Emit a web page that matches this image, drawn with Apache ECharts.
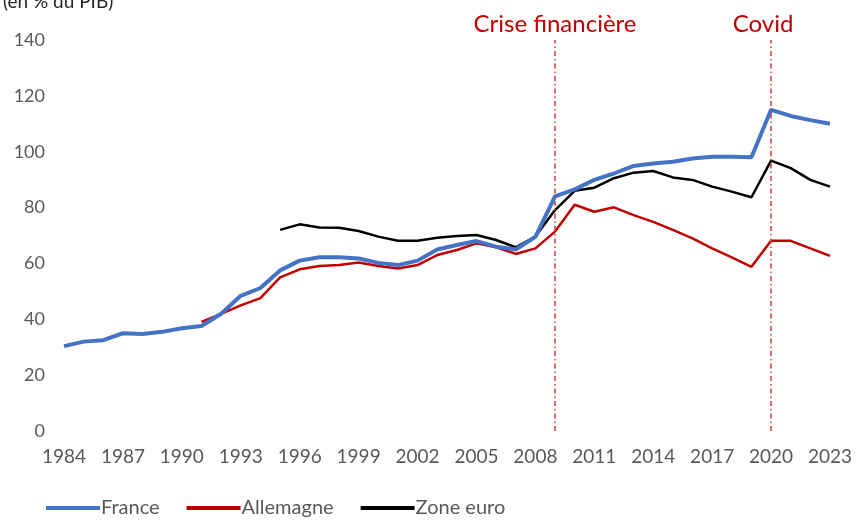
<!DOCTYPE html>
<html>
<head>
<meta charset="utf-8">
<script src="https://cdn.jsdelivr.net/npm/echarts@6/dist/echarts.min.js"></script>
<style>html,body{margin:0;padding:0;background:#fff}#c{width:857px;height:523px}</style>
</head>
<body>
<div id="c"></div>
<script>
const years = [];
for (let y = 1984; y <= 2023; y++) years.push(String(y));

const france = [30.4, 32.0, 32.5, 35.0, 34.7, 35.5, 36.8, 37.6, 42.0, 48.4, 51.2, 57.5, 61.0, 62.2, 62.2, 61.8, 60.2, 59.4, 61.0, 65.0, 66.6, 68.0, 66.0, 65.0, 69.5, 84.0, 86.5, 89.9, 92.2, 94.9, 95.8, 96.4, 97.6, 98.2, 98.2, 98.0, 115.0, 112.8, 111.3, 110.0];
const allemagne = [null, null, null, null, null, null, null, 39.1, 41.9, 45.0, 47.6, 55.0, 57.9, 59.1, 59.4, 60.3, 59.1, 58.2, 59.4, 63.0, 64.8, 67.2, 65.8, 63.4, 65.4, 71.4, 81.0, 78.5, 80.1, 77.3, 74.9, 72.0, 69.0, 65.4, 62.2, 58.8, 68.1, 68.1, 65.4, 62.7];
const zoneEuro = [null, null, null, null, null, null, null, null, null, null, null, 72.0, 74.0, 72.9, 72.8, 71.6, 69.6, 68.1, 68.1, 69.2, 69.8, 70.2, 68.4, 65.8, 69.6, 79.1, 86.0, 87.1, 90.5, 92.5, 93.1, 90.8, 89.9, 87.5, 85.7, 83.7, 96.8, 94.1, 89.9, 87.5];
const eventYears = ['2009', '2020'];
const eventLabels = ['Crise financière', 'Covid'];

const FONT = 'Lato, "Open Sans", sans-serif';
const RED = '#C00000';
const MARK = '#D83A3A';
const chart = echarts.init(document.getElementById('c'));
chart.setOption({
  animation: false,
  backgroundColor: '#fff',
  textStyle: { fontFamily: FONT },
  title: {
    text: '(en % du PIB)',
    left: -2, top: -13,
    textStyle: { fontFamily: FONT, fontSize: 19, fontWeight: 'normal', color: '#262626' }
  },
  grid: { left: 64, right: 27, top: 40, bottom: 92, containLabel: false },
  xAxis: {
    type: 'category',
    data: years,
    boundaryGap: false,
    axisLine: { show: false },
    axisTick: { show: false },
    axisLabel: { interval: 2, color: '#595959', fontSize: 19, margin: 16, fontFamily: FONT }
  },
  yAxis: {
    type: 'value',
    min: 0, max: 140, interval: 20,
    splitLine: { show: false },
    axisLine: { show: false },
    axisTick: { show: false },
    axisLabel: { color: '#595959', fontSize: 18, margin: 19, fontFamily: FONT }
  },
  legend: {
    bottom: 0, left: 41,
    icon: 'rect',
    itemWidth: 54, itemHeight: 4, itemGap: 27,
    textStyle: { color: '#595959', fontSize: 20, fontFamily: FONT, padding: [0, 0, 0, -4] },
    data: ['France', 'Allemagne', 'Zone euro']
  },
  series: [
    {
      name: 'France', type: 'line', data: france, symbol: 'none',
      lineStyle: { color: '#4472C4', width: 4 }, itemStyle: { color: '#4472C4' }, z: 3
    },
    {
      name: 'Allemagne', type: 'line', data: allemagne, symbol: 'none',
      lineStyle: { color: RED, width: 2.5 }, itemStyle: { color: RED }, z: 2,
      markLine: {
        silent: true, symbol: ['none', 'none'],
        itemStyle: { color: MARK },
        lineStyle: { color: MARK, type: [5, 3, 1.5, 3], width: 1.5, opacity: 1 },
        label: { position: 'end', color: RED, fontSize: 24, fontFamily: FONT, distance: 4 },
        data: eventYears.map((yr, i) => ({
          xAxis: yr,
          itemStyle: { color: MARK },
          lineStyle: { color: MARK, type: [5, 3, 1.5, 3], width: 1.5 },
          label: { formatter: eventLabels[i], offset: i === 1 ? [-8, 0] : [0, 0] }
        }))
      }
    },
    {
      name: 'Zone euro', type: 'line', data: zoneEuro, symbol: 'none',
      lineStyle: { color: '#000000', width: 2.5 }, itemStyle: { color: '#000000' }, z: 1
    }
  ]
});
</script>
</body>
</html>
